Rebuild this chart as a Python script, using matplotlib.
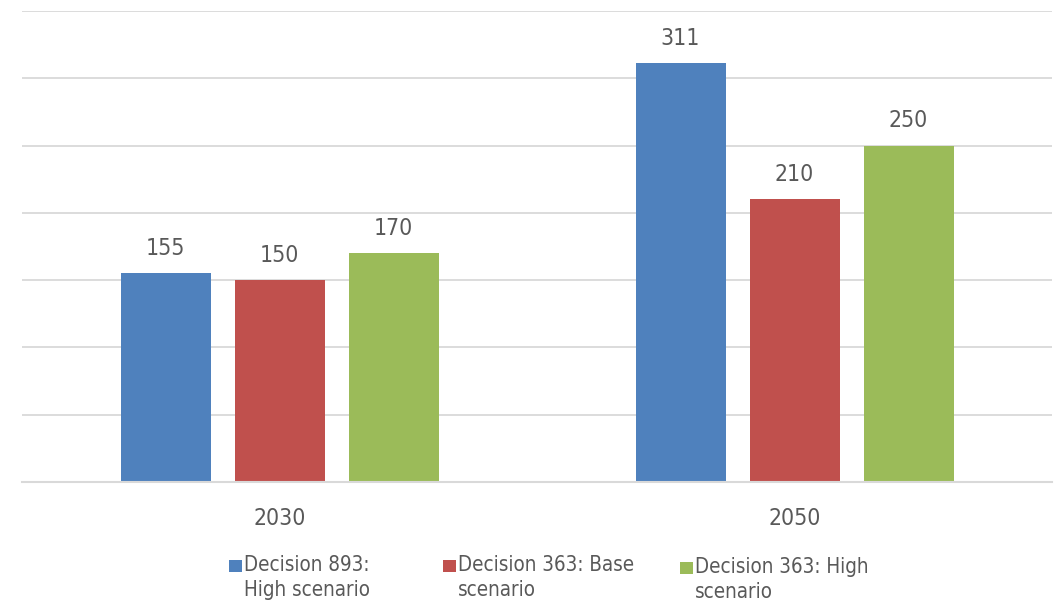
import matplotlib
matplotlib.use("Agg")
import matplotlib.pyplot as plt
from matplotlib.patches import Rectangle
import numpy as np

# Data
years = ["2030", "2050"]
series_names = [
    ["Decision 893:", "High scenario"],
    ["Decision 363: Base", "scenario"],
    ["Decision 363: High", "scenario"],
]
decision_893_high = [155, 311]
decision_363_base = [150, 210]
decision_363_high = [170, 250]
colors = ["#4F81BD", "#C0504D", "#9BBB59"]

TEXT = "#595959"
GRID = "#D9D9D9"

plt.rcParams["font.family"] = ["DejaVu Sans"]
plt.rcParams["font.stretch"] = "condensed"

W, H = 1058, 602
fig = plt.figure(figsize=(W / 100, H / 100), dpi=100)
ax = fig.add_axes([22 / W, (H - 482) / H, (1052 - 22) / W, (482 - 11) / H])

x = np.arange(len(years))
bar_w = 90 / 515
step = 114 / 515
all_series = [decision_893_high, decision_363_base, decision_363_high]
for i, (vals, col) in enumerate(zip(all_series, colors)):
    bars = ax.bar(x + (i - 1) * step, vals, width=bar_w, color=col, zorder=3)
    ax.bar_label(bars, labels=[str(v) for v in vals], padding=9.5,
                 fontsize=16.5, color=TEXT)

ax.set_xlim(-0.5, 1.5)
ax.set_ylim(0, 350)
ax.set_yticks(np.arange(0, 351, 50))
ax.set_yticklabels([])
ax.tick_params(axis="y", length=0)
ax.grid(axis="y", color=GRID, linewidth=1.3, zorder=0)
ax.set_xticks(x)
ax.set_xticklabels(years, fontsize=16.5, color=TEXT)
ax.tick_params(axis="x", length=0, pad=18)
for s in ["top", "right", "left"]:
    ax.spines[s].set_visible(False)
ax.spines["bottom"].set_color(GRID)
ax.spines["bottom"].set_linewidth(1.5)
ax.spines["bottom"].set_zorder(4)

# Legend, drawn entry by entry so the swatch sits beside the first line
legend_x = [229, 443, 680]
legend_dy = [0, 0, 2]
for name, col, lx, dy in zip(series_names, colors, legend_x, legend_dy):
    top = 560 + dy
    fig.add_artist(Rectangle((lx / W, (H - top - 12) / H), 13 / W, 12 / H,
                             transform=fig.transFigure, color=col, lw=0))
    fig.text((lx + 15) / W, (H - 571 - dy) / H, name[0], fontsize=14.8,
             color=TEXT, va="baseline", ha="left")
    fig.text((lx + 15) / W, (H - 596 - dy) / H, name[1], fontsize=14.8,
             color=TEXT, va="baseline", ha="left")

fig.savefig("out.png", dpi=100, facecolor="white")
